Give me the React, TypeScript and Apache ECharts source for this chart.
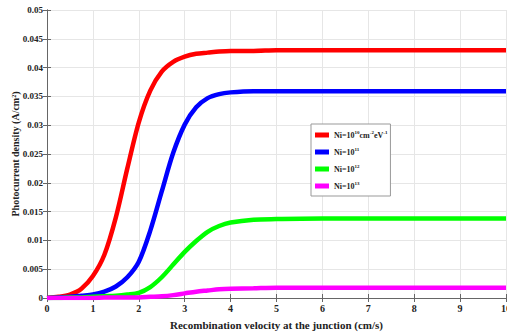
import React, { useEffect, useRef } from "react";
import * as echarts from "echarts";

const xValues = [0, 0.25, 0.5, 0.75, 1, 1.25, 1.5, 1.75, 2, 2.25, 2.5, 2.75, 3, 3.25, 3.5, 3.75, 4, 4.5, 5, 6, 7, 8, 9, 10];
const redValues = [0, 0.0002, 0.0006, 0.0016, 0.0038, 0.0075, 0.014, 0.0225, 0.0305, 0.036, 0.0393, 0.041, 0.0419, 0.0424, 0.0426, 0.0428, 0.0429, 0.0429, 0.043, 0.043, 0.043, 0.043, 0.043, 0.043];
const blueValues = [0, 0.0001, 0.0002, 0.0004, 0.0006, 0.0011, 0.002, 0.0036, 0.0063, 0.0117, 0.0185, 0.0252, 0.0301, 0.0331, 0.0347, 0.0354, 0.0357, 0.0359, 0.0359, 0.0359, 0.0359, 0.0359, 0.0359, 0.0359];
const greenValues = [0, 0, 0.0001, 0.0001, 0.0002, 0.0003, 0.0004, 0.0006, 0.0009, 0.0019, 0.0036, 0.0058, 0.008, 0.0099, 0.0115, 0.0125, 0.0131, 0.0136, 0.0137, 0.0138, 0.0138, 0.0138, 0.0138, 0.0138];
const magentaValues = [0, 0, 0, 0, 0, 0.0001, 0.0001, 0.0001, 0.0001, 0.0002, 0.0003, 0.0005, 0.0008, 0.0011, 0.0013, 0.0015, 0.0016, 0.0017, 0.0018, 0.0018, 0.0018, 0.0018, 0.0018, 0.0018];

const seriesNames = ["n10", "n11", "n12", "n13"];
const seriesColors = ["#ff0000", "#0000ff", "#00ff00", "#ff00ff"];
const seriesValues = [redValues, blueValues, greenValues, magentaValues];

const xTitle = "Recombination velocity at the junction (cm/s)";
const yTitle = "Photocurrent density (A/cm²)";

const FONT = "'Liberation Serif', 'Times New Roman', serif";

export default function App() {
  const ref = useRef<HTMLDivElement>(null);
  useEffect(() => {
    if (!ref.current) return;
    const chart = echarts.init(ref.current, null, { renderer: "svg" });
    const legendText: Record<string, string> = {
      n10: "{n|Ni=10}{s|10}{n|cm}{s|-2}{n|eV}{s|-1}",
      n11: "{n|Ni=10}{s|11}",
      n12: "{n|Ni=10}{s|12}",
      n13: "{n|Ni=10}{s|13}",
    };
    const axisLine = { show: true, lineStyle: { color: "#666", width: 1 } };
    chart.setOption({
      animation: false,
      backgroundColor: "#fff",
      grid: { left: 47, right: 1, top: 10, bottom: 37, containLabel: false, outerBoundsMode: "none" },
      legend: {
        orient: "vertical",
        left: 311,
        top: 124,
        data: seriesNames,
        icon: "rect",
        itemWidth: 14,
        itemHeight: 5,
        itemGap: 8,
        padding: [6, 3, 6, 4],
        borderColor: "#999",
        borderWidth: 1,
        backgroundColor: "#fff",
        formatter: (name: string) => legendText[name],
        textStyle: {
          fontFamily: FONT,
          fontWeight: "bold",
          color: "#222",
          rich: {
            n: { fontFamily: FONT, fontSize: 8, fontWeight: "bold", color: "#222" },
            s: { fontFamily: FONT, fontSize: 5, fontWeight: "bold", color: "#222", padding: [0, 0, 5, 0] },
          },
        },
      },
      xAxis: [
        {
          type: "value",
          min: 0,
          max: 10,
          interval: 1,
          name: xTitle,
          nameLocation: "middle",
          nameGap: 21,
          nameMoveOverlap: false,
          nameTextStyle: { fontFamily: FONT, fontWeight: "bold", fontSize: 11, color: "#222" },
          axisLine,
          axisTick: { show: true, inside: true, length: 4, lineStyle: { color: "#666" } },
          axisLabel: { fontFamily: FONT, fontWeight: "bold", fontSize: 10, color: "#222", margin: 5 },
          splitLine: { show: true, lineStyle: { color: "#e6e6e6", width: 1 } },
        },
        {
          type: "value",
          position: "top",
          min: 0,
          max: 10,
          interval: 1,
          axisLine,
          axisTick: { show: true, inside: true, length: 4, lineStyle: { color: "#666" } },
          axisLabel: { show: false },
          splitLine: { show: false },
        },
      ],
      yAxis: [
        {
          type: "value",
          min: 0,
          max: 0.05,
          interval: 0.005,
          name: yTitle,
          nameLocation: "middle",
          nameGap: 27,
          nameMoveOverlap: false,
          nameTextStyle: { fontFamily: FONT, fontWeight: "bold", fontSize: 10, color: "#222" },
          axisLine,
          axisTick: { show: true, inside: true, length: 4, lineStyle: { color: "#666" } },
          axisLabel: {
            fontFamily: FONT,
            fontWeight: "bold",
            fontSize: 9,
            color: "#222",
            margin: 4,
            formatter: (v: number) => String(parseFloat(v.toFixed(3))),
          },
          splitLine: { show: true, lineStyle: { color: "#e6e6e6", width: 1 } },
        },
        {
          type: "value",
          position: "right",
          min: 0,
          max: 0.05,
          interval: 0.005,
          axisLine,
          axisTick: { show: true, inside: true, length: 4, lineStyle: { color: "#666" } },
          axisLabel: { show: false },
          splitLine: { show: false },
        },
      ],
      series: seriesNames.map((name, i) => ({
        name,
        type: "line",
        smooth: 0.3,
        symbol: "none",
        xAxisIndex: 0,
        yAxisIndex: 0,
        itemStyle: { color: seriesColors[i] },
        lineStyle: { color: seriesColors[i], width: 4.5 },
        data: xValues.map((x, j) => [x, seriesValues[i][j]]),
        z: 10 + i,
      })),
    });
    return () => chart.dispose();
  }, []);
  return <div ref={ref} style={{ position: "fixed", left: 0, top: 0, width: 507, height: 335 }} />;
}
